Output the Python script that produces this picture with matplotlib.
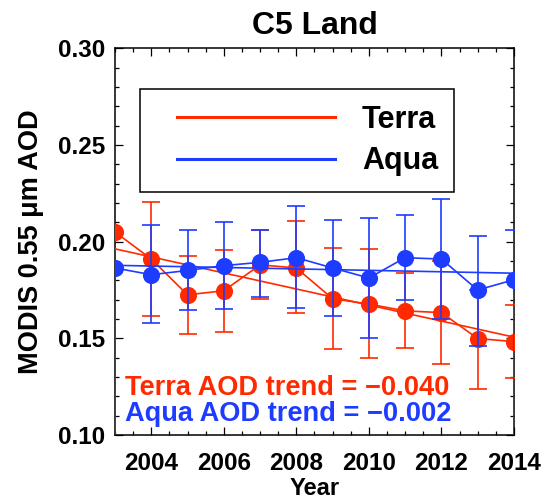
import numpy as np
import matplotlib
matplotlib.use("Agg")
import matplotlib.pyplot as plt
from matplotlib.lines import Line2D
from matplotlib.legend_handler import HandlerBase
from matplotlib.ticker import MultipleLocator

plt.rcParams['font.family'] = ['Liberation Sans', 'DejaVu Sans']
plt.rcParams['font.weight'] = 'bold'

# values
years = np.arange(2003, 2015)

terra = [0.205, 0.191, 0.1725, 0.1746, 0.188, 0.1864, 0.1705, 0.1677, 0.1642, 0.1633, 0.1499, 0.1483]
terra_hi = [0.205, 0.2204, 0.1924, 0.1959, 0.2062, 0.2109, 0.1967, 0.1962, 0.1836, 0.190, 0.175, 0.1674]
terra_lo = [0.205, 0.1613, 0.1523, 0.1532, 0.1703, 0.163, 0.1444, 0.1397, 0.1450, 0.1368, 0.124, 0.1294]

aqua = [0.1864, 0.1829, 0.1851, 0.1876, 0.1893, 0.1917, 0.1864, 0.1812, 0.1917, 0.191, 0.1750, 0.1803]
aqua_hi = [0.1864, 0.2088, 0.2062, 0.2100, 0.2062, 0.2183, 0.2110, 0.2123, 0.2140, 0.2221, 0.2028, 0.2060]
aqua_lo = [0.0900, 0.1579, 0.1648, 0.1651, 0.1714, 0.1656, 0.1613, 0.1501, 0.1700, 0.1600, 0.1462, 0.0900]

terra_trend_txt = "Terra AOD trend = \u22120.040"
aqua_trend_txt = "Aqua AOD trend = \u22120.002"

red = '#ff2a00'
blue = '#1e3cff'

terra = np.array(terra)
aqua = np.array(aqua)
t_err = [terra - np.array(terra_lo), np.array(terra_hi) - terra]
a_err = [aqua - np.array(aqua_lo), np.array(aqua_hi) - aqua]

# linear fits for the trend lines
tp = np.polyfit(years, terra, 1)
ap = np.polyfit(years, aqua, 1)


class GapLine(HandlerBase):
    # legend line that leaves a little room on its left
    def create_artists(self, legend, orig_handle, xdescent, ydescent, width, height, fontsize, trans):
        gap = 0.117 * width
        y = height / 2 - ydescent
        ln = Line2D([gap - xdescent, width - xdescent], [y, y],
                    color=orig_handle.get_color(), lw=orig_handle.get_linewidth())
        ln.set_transform(trans)
        return [ln]


fig = plt.figure(figsize=(5.45, 5.0), dpi=100)
ax = fig.add_axes([0.211, 0.13, 0.732, 0.7734])

ax.errorbar(years, terra, yerr=t_err, color=red, lw=1.2, ecolor=red, elinewidth=1.2,
            capsize=6.5, capthick=1.2, marker='o', ms=11.3, mec=red, mfc=red, zorder=3)
ax.plot(years, np.polyval(tp, years), color=red, lw=1.2, zorder=3.1)
ax.errorbar(years, aqua, yerr=a_err, color=blue, lw=1.2, ecolor=blue, elinewidth=1.2,
            capsize=6.5, capthick=1.2, marker='o', ms=11.3, mec=blue, mfc=blue, zorder=3.2)
ax.plot(years, np.polyval(ap, years), color=blue, lw=1.2, zorder=3.3)

ax.set_xlim(2003, 2014)
ax.set_ylim(0.10, 0.30)
ax.xaxis.set_major_locator(MultipleLocator(2))
ax.xaxis.set_minor_locator(MultipleLocator(0.5))
ax.yaxis.set_major_locator(MultipleLocator(0.05))
ax.yaxis.set_minor_locator(MultipleLocator(0.01))
ax.xaxis.set_major_formatter(plt.FuncFormatter(lambda v, p: f"{int(v)}"))
ax.yaxis.set_major_formatter(plt.FuncFormatter(lambda v, p: f"{v:.2f}"))
ax.tick_params(which='both', direction='in', top=True, right=True, width=0.9, labelsize=17.5)
ax.tick_params(which='major', length=6)
ax.tick_params(which='minor', length=3)
ax.tick_params(axis='x', pad=12)
ax.tick_params(axis='y', pad=7)
for s in ax.spines.values():
    s.set_linewidth(1.1)

ax.set_xlabel("Year", fontsize=17, fontweight='bold', labelpad=2)
ax.set_ylabel("MODIS 0.55 \u03bcm AOD", fontsize=19.5, fontweight='bold', labelpad=10)
ax.set_title("C5 Land", fontsize=23, fontweight='bold', pad=10)

handles = [Line2D([], [], color=red, lw=2.2), Line2D([], [], color=blue, lw=2.2)]
leg = ax.legend(handles, ["Terra", "Aqua"], loc='upper left', bbox_to_anchor=(0.0627, 0.8948),
                fontsize=22, frameon=True, fancybox=False, edgecolor='black', framealpha=1,
                handlelength=5.86, handletextpad=0.88, borderpad=0.52, labelspacing=0.38,
                borderaxespad=0, handler_map={Line2D: GapLine()})
leg.get_frame().set_linewidth(1.1)
for t in leg.get_texts():
    t.set_fontweight('bold')
leg.set_zorder(5)

ax.text(0.025, 0.1215, terra_trend_txt, transform=ax.transAxes, color=red, fontsize=19.6,
        fontweight='bold', va='center', ha='left', zorder=6)
ax.text(0.025, 0.054, aqua_trend_txt, transform=ax.transAxes, color=blue, fontsize=19.6,
        fontweight='bold', va='center', ha='left', zorder=6)

fig.savefig("out.png", dpi=100)
